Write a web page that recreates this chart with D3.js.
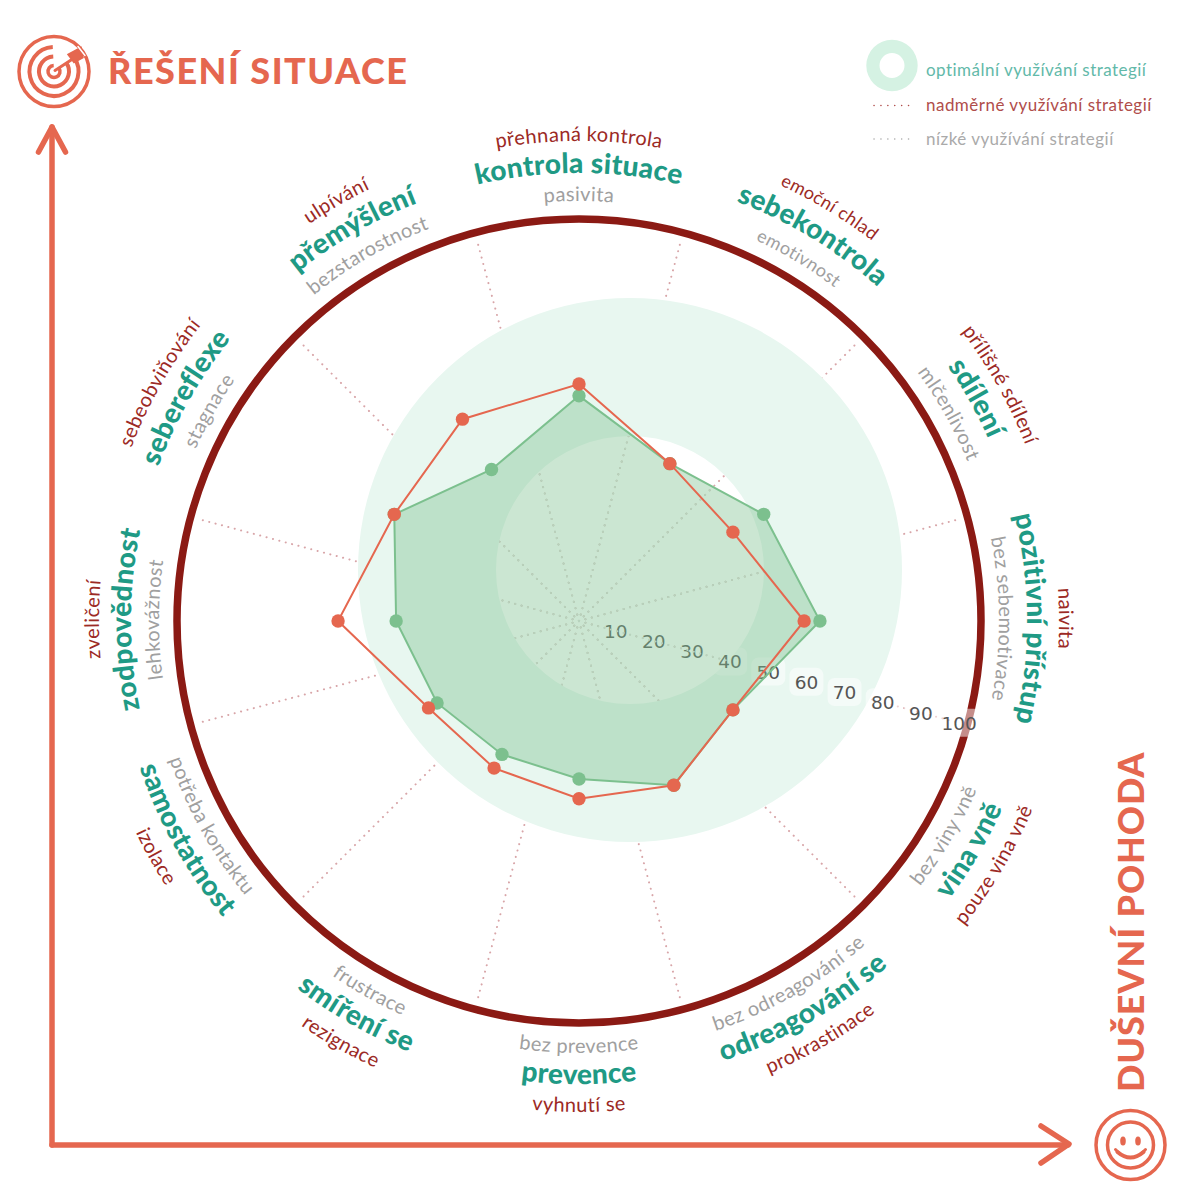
<!DOCTYPE html>
<html>
<head>
<meta charset="utf-8">
<script src="https://cdn.jsdelivr.net/npm/d3@7"></script>
<style>
  html, body { margin: 0; background: #fff; }
  text { font-family: Lato, "Noto Sans", sans-serif; }
</style>
</head>
<body>
<div id="chart"></div>
<script>
const categories = ['kontrola situace', 'sebekontrola', 'sdílení', 'pozitivní přístup', 'vina vně', 'odreagování se', 'prevence', 'smíření se', 'samostatnost', 'zodpovědnost', 'sebereflexe', 'přemýšlení'];
const highLabels = ['přehnaná kontrola', 'emoční chlad', 'přílišné sdílení', 'naivita', 'pouze vina vně', 'prokrastinace', 'vyhnutí se', 'rezignace', 'izolace', 'zveličení', 'sebeobviňování', 'ulpívání'];
const lowLabels = ['pasivita', 'emotivnost', 'mlčenlivost', 'bez sebemotivace', 'bez viny vně', 'bez odreagování se', 'bez prevence', 'frustrace', 'potřeba kontaktu', 'lehkovážnost', 'stagnace', 'bezstarostnost'];
const optimalValues = [57, 46, 54, 61, 45, 48, 40, 39, 41.5, 46.3, 54, 44.3];
const actualValues = [60, 46, 45, 57, 45, 48, 45, 43, 44, 61, 54, 59];
const radialTicks = [10, 20, 30, 40, 50, 60, 70, 80, 90, 100];

const legendLabels = ['optimální využívání strategií', 'nadměrné využívání strategií', 'nízké využívání strategií'];

const coral = '#e5674f';
const maroon = '#8b1a14';
const teal = '#1f9a85';
const darkRed = '#9c2a25';
const gray = '#a0a0a0';

const width = 1200;
const height = 1200;
const cx = 579;
const cy = 621;

// small turn (degrees) of each label group, the labels are not exactly on the axes
const labelTurn = [0, 1.2, 0.7, -0.3, 0.4, 0, 0, -0.5, 0.9, 0.2, -0.4, 0];

const svg = d3.select('#chart').append('svg')
  .attr('width', width)
  .attr('height', height)
  .style('display', 'block');

const r = d3.scaleLinear().domain([0, 100]).range([0, 395]);
const angle = d3.scalePoint().domain(d3.range(categories.length)).range([0, 2 * Math.PI * 11 / 12]);

function polar(i, value) {
  const a = angle(i) - Math.PI / 2;
  return [cx + r(value) * Math.cos(a), cy + r(value) * Math.sin(a)];
}

// dotted spokes, half way between the categories
const spokeStep = Math.PI / 6;
function drawSpokes(parent, color) {
  parent.selectAll('line')
    .data(categories)
    .enter()
    .append('line')
    .attr('x1', cx)
    .attr('y1', cy)
    .attr('x2', function(d, i) { return cx + r(100) * Math.cos(angle(i) + spokeStep / 2 - Math.PI / 2); })
    .attr('y2', function(d, i) { return cy + r(100) * Math.sin(angle(i) + spokeStep / 2 - Math.PI / 2); })
    .attr('stroke', color)
    .attr('stroke-width', 2)
    .attr('stroke-linecap', 'round')
    .attr('stroke-dasharray', '0.1 6.5');
}
drawSpokes(svg.append('g'), '#d8a5a8');

// optimal zone, it is not centered on the radar
svg.append('path')
  .attr('transform', 'translate(630,570)')
  .attr('d', d3.arc()({ innerRadius: 134, outerRadius: 272, startAngle: 0, endAngle: 2 * Math.PI }))
  .attr('fill', '#e8f7f0');

// outer ring
svg.append('circle')
  .attr('cx', cx)
  .attr('cy', cy)
  .attr('r', 402)
  .attr('fill', 'none')
  .attr('stroke', maroon)
  .attr('stroke-width', 7.5);

// tick labels along the 105 degree spoke
const tickAngle = 105 * Math.PI / 180 - Math.PI / 2;
const tick = svg.append('g')
  .selectAll('g')
  .data(radialTicks)
  .enter()
  .append('g')
  .attr('transform', function(d) {
    return 'translate(' + (cx + r(d) * Math.cos(tickAngle) - 1.5) + ',' + (cy + r(d) * Math.sin(tickAngle) - 0.5) + ')';
  });
tick.append('rect')
  .attr('x', function(d) { return d === 100 ? -22 : -17; })
  .attr('y', -14)
  .attr('width', function(d) { return d === 100 ? 44 : 34; })
  .attr('height', 28)
  .attr('rx', 7)
  .attr('fill', '#fff')
  .attr('fill-opacity', 0.5);
tick.append('text')
  .attr('text-anchor', 'middle')
  .attr('dy', 7)
  .style('font-family', '"DejaVu Sans", sans-serif')
  .style('font-size', '18.5px')
  .attr('fill', '#555')
  .text(function(d) { return d; });

// radar polygons
const series = [
  { values: optimalValues, color: '#7cc08e', fill: '#7cc08e', lineWidth: 2 },
  { values: actualValues, color: coral, fill: 'none', lineWidth: 2 }
];

const radarLine = d3.lineRadial()
  .angle(function(d, i) { return angle(i); })
  .radius(function(d) { return r(d); })
  .curve(d3.curveLinearClosed);

const layer = svg.selectAll('g.series')
  .data(series)
  .enter()
  .append('g')
  .attr('class', 'series');

layer.append('path')
  .attr('transform', 'translate(' + cx + ',' + cy + ')')
  .attr('d', function(d) { return radarLine(d.values); })
  .attr('fill', function(d) { return d.fill; })
  .attr('fill-opacity', 0.4)
  .attr('stroke', function(d) { return d.color; })
  .attr('stroke-width', function(d) { return d.lineWidth; });

// the dots look much fainter under the green fill, so tone them down there
const clips = svg.append('defs');
clips.append('clipPath')
  .attr('id', 'optimalClip')
  .append('path')
  .attr('transform', 'translate(' + cx + ',' + cy + ')')
  .attr('d', radarLine(optimalValues));
clips.append('clipPath')
  .attr('id', 'holeClip')
  .append('circle')
  .attr('cx', 630)
  .attr('cy', 570)
  .attr('r', 134);
const toned = svg.insert('g', 'g.series:last-of-type')
  .attr('clip-path', 'url(#optimalClip)')
  .append('g')
  .attr('clip-path', 'url(#holeClip)');
drawSpokes(toned, '#b7d3bd');

layer.selectAll('circle')
  .data(function(d) {
    return d.values.map(function(v, i) { return { value: v, i: i, color: d.color }; });
  })
  .enter()
  .append('circle')
  .attr('cx', function(d) { return polar(d.i, d.value)[0]; })
  .attr('cy', function(d) { return polar(d.i, d.value)[1]; })
  .attr('r', 6.7)
  .attr('fill', function(d) { return d.color; });

// curved labels around the ring
const defs = svg.append('defs');
const isBottom = function(i) { return i >= 4 && i <= 8; };

function labelRing(labels, name, topRadius, bottomRadius, size, weight, color, spacing, sizeAt) {
  labels.forEach(function(label, i) {
    const a = angle(i) - Math.PI / 2 + labelTurn[i] * Math.PI / 180;
    const radius = isBottom(i) ? bottomRadius : topRadius;
    const p = d3.path();
    if (isBottom(i)) {
      p.arc(cx, cy, radius, a + Math.PI / 2, a - Math.PI / 2, true);
    } else {
      p.arc(cx, cy, radius, a - Math.PI / 2, a + Math.PI / 2, false);
    }
    const id = name + i;
    defs.append('path').attr('id', id).attr('d', p.toString());
    svg.append('text')
      .attr('text-anchor', 'middle')
      .style('font-size', (sizeAt ? sizeAt(i) : size) + 'px')
      .style('font-weight', weight)
      .style('letter-spacing', spacing + 'px')
      .attr('fill', color)
      .append('textPath')
      .attr('href', '#' + id)
      .attr('startOffset', '50%')
      .text(label);
  });
}

// the pair around sebekontrola is set a bit smaller in the picture
const thinSize = function(i) { return i === 1 ? 18 : 20; };
labelRing(lowLabels, 'low', 420, 432, 20, 400, gray, 0.4, thinSize);
labelRing(categories, 'cat', 448, 463, 28, 900, teal, 0.3);
labelRing(highLabels, 'high', 480, 491, 20, 400, darkRed, 0.4, thinSize);

// axis arrows
const arrows = svg.append('g')
  .attr('fill', 'none')
  .attr('stroke', coral)
  .attr('stroke-width', 5.5)
  .attr('stroke-linecap', 'round')
  .attr('stroke-linejoin', 'round');
arrows.append('path').attr('d', 'M52 1145V127');
arrows.append('path').attr('d', 'M38.5 152L52 127L65.5 152');
arrows.append('path').attr('d', 'M52 1145H1068');
arrows.append('path').attr('d', 'M1041 1126L1069 1144L1041 1163');

// axis titles
svg.append('text')
  .attr('x', 108)
  .attr('y', 84)
  .style('font-size', '36px')
  .style('font-weight', 900)
  .style('letter-spacing', '1.5px')
  .attr('fill', coral)
  .text('ŘEŠENÍ SITUACE');
svg.append('text')
  .attr('transform', 'translate(1144,1092) rotate(-90)')
  .style('font-size', '36px')
  .style('font-weight', 900)
  .style('letter-spacing', '0.9px')
  .attr('fill', coral)
  .text('DUŠEVNÍ POHODA');

// target icon
const target = svg.append('g')
  .attr('transform', 'translate(54,71.5)')
  .attr('fill', 'none')
  .attr('stroke', coral)
  .attr('stroke-linecap', 'round');
target.append('circle').attr('r', 35).attr('stroke-width', 3.5);
[[24.5, 4], [15, 4], [6, 3.5]].forEach(function(ring) {
  target.append('path')
    .attr('d', d3.arc()({ innerRadius: ring[0], outerRadius: ring[0], startAngle: 0.95, endAngle: 2 * Math.PI - 0.05 }))
    .attr('stroke-width', ring[1]);
});
target.append('path').attr('d', 'M1 -1L24 -16').attr('stroke-width', 3);
target.append('path')
  .attr('d', 'M14 -17L27 -24L29 -14L20 -9Z')
  .attr('fill', coral)
  .attr('stroke-width', 1.5);
target.append('path').attr('d', 'M24 -25L31 -16').attr('stroke', '#fff').attr('stroke-width', 1.5);

// smiley icon
const smiley = svg.append('g')
  .attr('transform', 'translate(1130.5,1145)')
  .attr('fill', 'none')
  .attr('stroke', coral)
  .attr('stroke-linecap', 'round');
smiley.append('circle').attr('r', 34.5).attr('stroke-width', 3.5);
smiley.append('circle').attr('r', 23).attr('stroke-width', 3.5);
smiley.append('ellipse').attr('cx', -7.5).attr('cy', -4).attr('rx', 2.8).attr('ry', 4.5).attr('fill', coral).attr('stroke', 'none');
smiley.append('ellipse').attr('cx', 7.5).attr('cy', -4).attr('rx', 2.8).attr('ry', 4.5).attr('fill', coral).attr('stroke', 'none');
smiley.append('path').attr('d', 'M-13 7Q0 18 13 7').attr('stroke-width', 4);
smiley.append('path').attr('d', 'M-15 4.5L-11.5 8').attr('stroke-width', 3);
smiley.append('path').attr('d', 'M15 4.5L11.5 8').attr('stroke-width', 3);

// legend
const legend = svg.append('g');
legend.append('path')
  .attr('transform', 'translate(892,65.5)')
  .attr('d', d3.arc()({ innerRadius: 12.5, outerRadius: 25.7, startAngle: 0, endAngle: 2 * Math.PI }))
  .attr('fill', '#d5f2e3');
legend.selectAll('text')
  .data(legendLabels)
  .enter()
  .append('text')
  .attr('x', 926)
  .attr('y', function(d, i) { return [76, 111, 145][i]; })
  .style('font-size', '17px')
  .style('letter-spacing', '0.47px')
  .attr('fill', function(d, i) { return ['#62b9a9', '#b04d4b', '#aaa'][i]; })
  .text(function(d) { return d; });
legend.selectAll('line')
  .data(['#b04d4b', '#aaa'])
  .enter()
  .append('line')
  .attr('x1', 874)
  .attr('x2', 910)
  .attr('y1', function(d, i) { return [105.5, 139][i]; })
  .attr('y2', function(d, i) { return [105.5, 139][i]; })
  .attr('stroke', function(d) { return d; })
  .attr('stroke-width', 1.5)
  .attr('stroke-linecap', 'round')
  .attr('stroke-dasharray', '0.1 6.8');
</script>
</body>
</html>
